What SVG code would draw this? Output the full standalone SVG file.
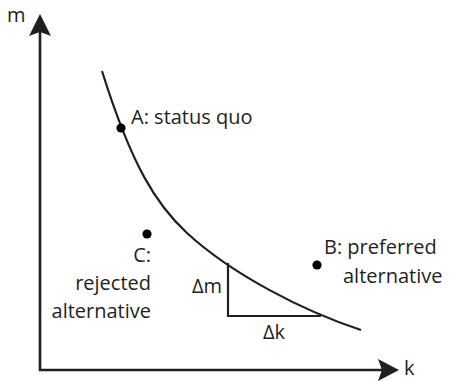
<svg xmlns="http://www.w3.org/2000/svg" width="451" height="381" viewBox="0 0 451 381">
<style>
.ln{fill:none;stroke:#231f20;stroke-width:2.2}
.ax{fill:none;stroke:#231f20;stroke-width:2.6}
.hd{fill:#231f20}
.dot{fill:#000}
text{font-family:"Open Sans","Liberation Sans",sans-serif;font-size:20px;fill:#231f20}
</style>
<rect width="451" height="381" fill="#fff"/>
<g id="connectors">
<path id="m-axis" class="ax" d="M40,371 L40,30"/>
<polygon class="hd" points="40,14 29,36 40,32 51,36"/>
<path id="k-axis" class="ax" d="M39,370 L382,370"/>
<polygon class="hd" points="399,370 378,359 382,370 378,381"/>
<path id="curve" class="ln" d="M102,71 C132,167 157,205.4 187,233 C232,274.4 303,310.9 361,330"/>
<path id="slope-triangle" class="ln" d="M228,263 L228,316 L321,316"/>
</g>
<g id="axis-m"><text x="7" y="22">m</text></g>
<g id="axis-k"><text x="404" y="375">k</text></g>
<g id="A"><circle class="dot" cx="121" cy="128" r="4.6"/><text x="131" y="124">A: status quo</text></g>
<g id="B"><circle class="dot" cx="317" cy="265" r="4.6"/><text x="324" y="254">B: preferred</text><text x="343" y="283">alternative</text></g>
<g id="C"><circle class="dot" cx="147" cy="234" r="4.6"/><text x="151" y="262" text-anchor="end">C:</text><text x="151" y="290" text-anchor="end">rejected</text><text x="151" y="318" text-anchor="end">alternative</text></g>
<g id="dm"><text x="222" y="293" text-anchor="end">Δm</text></g>
<g id="dk"><text x="263" y="339">Δk</text></g>
</svg>
